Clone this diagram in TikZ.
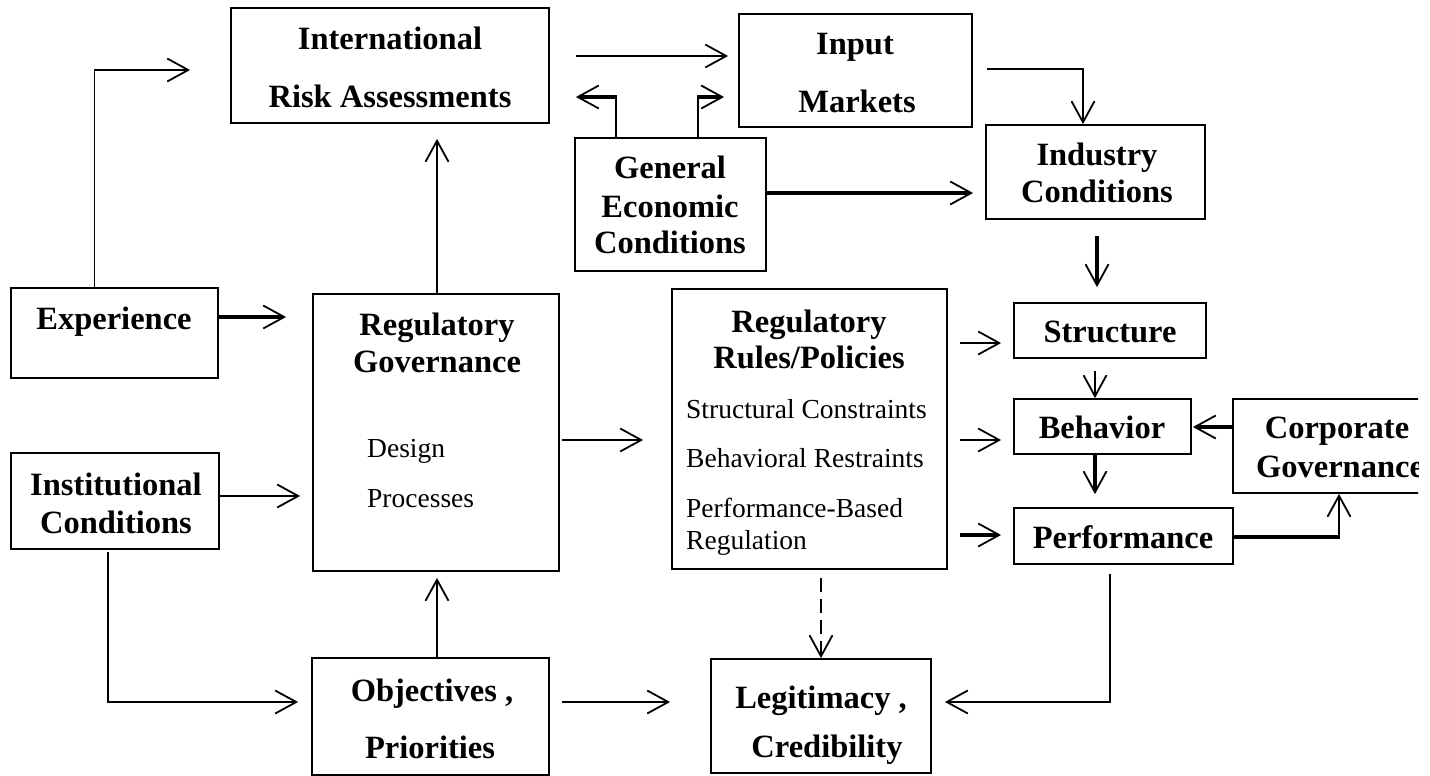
\documentclass[tikz,border=0pt]{standalone}
\usepackage{fontspec}
\setmainfont{Liberation Serif}
\usetikzlibrary{arrows.meta,fit}
\begin{document}
\begin{tikzpicture}[x=1pt,y=-1pt,
  box/.style={draw, line width=1.8pt, inner sep=0pt},
  bt/.style={font=\bfseries\fontsize{32.5}{32.5}\selectfont, inner sep=0pt, anchor=base},
  rt/.style={font=\fontsize{27.5}{27.5}\selectfont, inner sep=0pt, anchor=base west},
  ln/.style={line width=1.8pt},
  mid/.style={line width=2.6pt},
  thk/.style={line width=4pt},
  arr/.style={-{Straight Barb[length=21pt,width=23pt,line width=1.8pt]}},
]
\useasboundingbox (0,0) rectangle (1430,776);
\fill[white] (0,0) rectangle (1430,776);
\clip (0,0) rectangle (1418,776);

% boxes
\node[box, fit={(231,8) (549,123)}] (intl) {};
\node[box, fit={(739,14) (972,127)}] (input) {};
\node[box, fit={(986,125) (1205,219)}] (ind) {};
\node[box, fit={(575,138) (766,271)}] (gec) {};
\node[box, fit={(11,288) (218,378)}] (exp) {};
\node[box, fit={(313,294) (559,571)}] (rg) {};
\node[box, fit={(11,453) (219,549)}] (inst) {};
\node[box, fit={(312,658) (549,775)}] (obj) {};
\node[box, fit={(672,289) (947,569)}] (rr) {};
\node[box, fit={(1014,303) (1206,358)}] (str) {};
\node[box, fit={(1014,399) (1191,454)}] (beh) {};
\node[box, fit={(1014,508) (1233,564)}] (perf) {};
\node[box, fit={(1233,399) (1441,493)}] (cg) {};
\node[box, fit={(711,659) (931,773)}] (leg) {};

% texts
\node[bt] (intlA) at (390,50) {International};
\node[bt] (intlB) at (390,107) {Risk Assessments};
\node[bt] (inputA) at (855,55) {Input};
\node[bt] (inputB) at (857,112) {Markets};
\node[bt] (indA) at (1097,165) {Industry};
\node[bt] (indB) at (1097,202) {Conditions};
\node[bt] (gecA) at (670,178) {General};
\node[bt] (gecB) at (670,217) {Economic};
\node[bt] (gecC) at (670,253) {Conditions};
\node[bt] (expA) at (114,329) {Experience};
\node[bt] (rgA) at (437,335) {Regulatory};
\node[bt] (rgB) at (437,372) {Governance};
\node[rt] (rgC) at (367,457) {Design};
\node[rt] (rgD) at (367,507) {Processes};
\node[bt] (instA) at (116,495) {Institutional};
\node[bt] (instB) at (116,533) {Conditions};
\node[bt] (objA) at (432,701) {Objectives ,};
\node[bt] (objB) at (430,758) {Priorities};
\node[bt] (rrA) at (809,332) {Regulatory};
\node[bt] (rrB) at (809,368) {Rules/Policies};
\node[rt] (rrC) at (686,418) {Structural Constraints};
\node[rt] (rrD) at (686,467) {Behavioral Restraints};
\node[rt] (rrE) at (686,517) {Performance-Based};
\node[rt] (rrF) at (686,549) {Regulation};
\node[bt] (strA) at (1110,342) {Structure};
\node[bt] (behA) at (1102,438) {Behavior};
\node[bt] (perfA) at (1123,548) {Performance};
\node[bt] (cgA) at (1337,438) {Corporate};
\node[bt] (cgB) at (1340,477) {Governance};
\node[bt] (legA) at (821,708) {Legitimacy ,};
\node[bt] (legB) at (827,757) {Credibility};

% connectors
\draw[ln,arr,shorten >=40pt] ([xshift=-20pt]exp.north) |- (intl.west |- 0,70);
\draw[ln,arr,shorten <=26pt,shorten >=10pt] (intl.east |- 0,56) -- (input.west |- 0,56);
\coordinate (g1) at (616,97);
\coordinate (g2) at (698,97);
\draw[ln] (gec.north -| g1) -- (g1);
\draw[thk,arr,shorten >=26pt] ([xshift=0.9pt]g1) -- (intl.east |- g1);
\draw[ln] (gec.north -| g2) -- (g2);
\draw[thk,arr,shorten >=14pt] ([xshift=-0.9pt]g2) -- (input.west |- g2);
\draw[thk,arr,shorten >=12pt] (gec.east |- 0,193) -- (ind.west |- 0,193);
\draw[mid,arr,shorten <=14pt] (input.east |- 0,69) -| (ind.north -| 1083,0);
\draw[thk,arr,shorten <=16pt,shorten >=15pt] (ind.south -| 1097,0) -- (str.north -| 1097,0);
\draw[ln,arr,shorten >=15pt] (rg.north -| 437,0) -- (intl.south -| 437,0);
\draw[thk,arr,shorten >=26pt] (exp.east |- 0,317) -- (rg.west |- 0,317);
\draw[ln,arr,shorten >=12pt] (inst.east |- 0,496) -- (rg.west |- 0,496);
\draw[ln,arr,shorten <=2pt,shorten >=13pt] (inst.south -| 108,0) |- (obj.west |- 0,702);
\draw[ln,arr,shorten >=6pt] (obj.north -| 437,0) -- (rg.south -| 437,0);
\draw[ln,arr,shorten <=12pt,shorten >=40pt] (obj.east |- 0,702) -- (leg.west |- 0,702);
\draw[ln,arr,shorten <=2pt,shorten >=28pt] (rg.east |- 0,440) -- (rr.west |- 0,440);
\draw[ln,arr,shorten <=12pt,shorten >=12pt] (rr.east |- 0,343) -- (str.west |- 0,343);
\draw[ln,arr,shorten <=12pt,shorten >=12pt] (rr.east |- 0,440) -- (beh.west |- 0,440);
\draw[thk,arr,shorten <=12pt,shorten >=12pt] (rr.east |- 0,535) -- (perf.west |- 0,535);
\draw[mid,arr,shorten <=12pt] (str.south -| 1095,0) -- (beh.north -| 1095,0);
\draw[thk,arr,shorten >=13pt] (beh.south -| 1095,0) -- (perf.north -| 1095,0);
\draw[thk,arr,shorten >=1pt] (cg.west |- 0,427) -- (beh.east |- 0,427);
\coordinate (pc) at (1339,537);
\draw[thk] (perf.east |- pc) -- ([xshift=1.3pt]pc);
\draw[mid,arr] (pc) -- (cg.south -| pc);
\draw[ln,arr,dash pattern=on 14pt off 7pt,shorten <=8pt] (rr.south -| 821,0) -- (leg.north -| 821,0);
\draw[ln,arr,shorten <=9pt,shorten >=13pt] (perf.south -| 1110,0) |- (leg.east |- 0,702);
\end{tikzpicture}
\end{document}
